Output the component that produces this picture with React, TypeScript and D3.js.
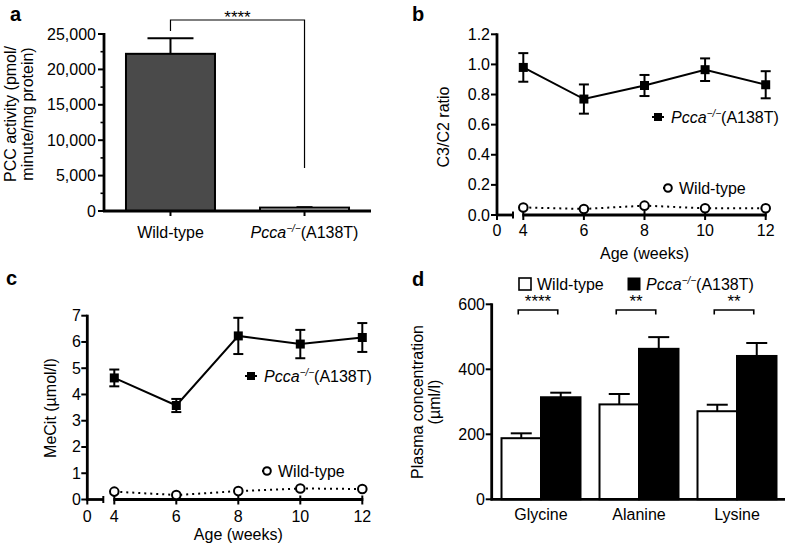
import React from "react";
import * as d3 from "d3";

// ---------- DATA ----------
const aCats = ["Wild-type", "Pcca"];
const aValues = [22200, 480];
const aErrors = [2200, 60];
const aTicks = [0, 5000, 10000, 15000, 20000, 25000];

const weeks = [4, 6, 8, 10, 12];
const bPcca = [0.98, 0.77, 0.86, 0.965, 0.865];
const bPccaErr = [0.095, 0.097, 0.07, 0.075, 0.09];
const bWT = [0.05, 0.04, 0.062, 0.045, 0.045];
const bTicks = [0, 0.2, 0.4, 0.6, 0.8, 1.0, 1.2];

const cPcca = [4.63, 3.58, 6.23, 5.92, 6.17];
const cPccaErr = [0.32, 0.25, 0.69, 0.54, 0.55];
const cWT = [0.3, 0.17, 0.32, 0.42, 0.4];
const cTicks = [0, 1, 2, 3, 4, 5, 6, 7];

const dCats = ["Glycine", "Alanine", "Lysine"];
const dSeries = ["Wild-type", "Pcca"];
const dWT = [188, 292, 271];
const dWTErr = [15, 32, 20];
const dPcca = [314, 463, 441];
const dPccaErr = [14, 36, 40];
const dStars = ["****", "**", "**"];
const dTicks = [0, 200, 400, 600];

const FONT = "Liberation Sans, Arial, Helvetica, sans-serif";
const FS = 16;

function PccaLabel({ x, y, anchor = "start" }: { x: number; y: number; anchor?: string }) {
  return (
    <text x={x} y={y} fontSize={FS} textAnchor={anchor} fontFamily={FONT}>
      <tspan fontStyle="italic">Pcca</tspan>
      <tspan fontStyle="italic" fontSize={10} dy={-6}>−/−</tspan>
      <tspan dy={6}>(A138T)</tspan>
    </text>
  );
}

function YAxis({ x, scale, ticks, fmt, labelX, minor }: any) {
  const [r0, r1] = scale.range();
  return (
    <g>
      <line x1={x} x2={x} y1={r0 + 1} y2={r1 - 1} stroke="#000" strokeWidth={2.8} />
      {ticks.map((t: number) => (
        <g key={t}>
          <line x1={x - 6} x2={x} y1={scale(t)} y2={scale(t)} stroke="#000" strokeWidth={2} />
          <text x={labelX} y={scale(t) + 5.5} textAnchor="end" fontSize={FS} fontFamily={FONT}>
            {fmt(t)}
          </text>
        </g>
      ))}
      {(minor || []).map((t: number) => (
        <line key={"m" + t} x1={x - 3.5} x2={x} y1={scale(t)} y2={scale(t)} stroke="#000" strokeWidth={1.6} />
      ))}
    </g>
  );
}

function LinePanel({ xs, ys, yAxisX, y0, ticks, fmt, labelX, pcca, pccaErr, wt, xTickY, leg1, leg2, yLabel, yLabelX, yLabelY, xLabelY }: any) {
  const line = d3
    .line<number>()
    .x((_, i) => xs(weeks[i]))
    .y((d) => ys(d));
  const breakEnd = yAxisX + 16;
  return (
    <g fontFamily={FONT}>
      <YAxis x={yAxisX} scale={ys} ticks={ticks} fmt={fmt} labelX={labelX} />
      {/* broken x axis */}
      <line x1={yAxisX - 1} x2={breakEnd} y1={y0} y2={y0} stroke="#000" strokeWidth={2.8} />
      <line x1={breakEnd} x2={breakEnd} y1={y0 - 3.5} y2={y0 + 3.5} stroke="#000" strokeWidth={2} />
      <line x1={yAxisX} x2={yAxisX} y1={y0} y2={y0 + 5} stroke="#000" strokeWidth={2} />
      <text x={yAxisX} y={xTickY} textAnchor="middle" fontSize={FS}>0</text>
      <line x1={xs(4) - 1} x2={xs(12) + 1} y1={y0} y2={y0} stroke="#000" strokeWidth={2.8} />
      {weeks.map((w) => (
        <g key={w}>
          <line x1={xs(w)} x2={xs(w)} y1={y0 - 4} y2={y0 + 5} stroke="#000" strokeWidth={2} />
          <text x={xs(w)} y={xTickY} textAnchor="middle" fontSize={FS}>{w}</text>
        </g>
      ))}
      {/* WT dotted */}
      <path d={line(wt) || ""} fill="none" stroke="#000" strokeWidth={2} strokeDasharray="2,4" />
      {wt.map((v: number, i: number) => (
        <circle key={i} cx={xs(weeks[i])} cy={ys(v)} r={4.3} fill="#fff" stroke="#000" strokeWidth={2} />
      ))}
      {/* Pcca */}
      <path d={line(pcca) || ""} fill="none" stroke="#000" strokeWidth={2} />
      {pcca.map((v: number, i: number) => {
        const cx = xs(weeks[i]);
        const t = ys(v + pccaErr[i]);
        const b = ys(v - pccaErr[i]);
        return (
          <g key={i}>
            <line x1={cx} x2={cx} y1={t} y2={b} stroke="#000" strokeWidth={2} />
            <line x1={cx - 5} x2={cx + 5} y1={t} y2={t} stroke="#000" strokeWidth={2} />
            <line x1={cx - 5} x2={cx + 5} y1={b} y2={b} stroke="#000" strokeWidth={2} />
            <rect x={cx - 4.5} y={ys(v) - 4.5} width={9} height={9} fill="#000" />
          </g>
        );
      })}
      {/* legends */}
      <line x1={leg1[0] - 6} x2={leg1[0] + 6} y1={leg1[1]} y2={leg1[1]} stroke="#000" strokeWidth={2} />
      <rect x={leg1[0] - 4} y={leg1[1] - 4} width={8} height={8} fill="#000" />
      <PccaLabel x={leg1[0] + 13} y={leg1[1] + 5.5} />
      <line x1={leg2[0] - 5} x2={leg2[0]} y1={leg2[1]} y2={leg2[1]} stroke="#000" strokeWidth={2} />
      <circle cx={leg2[0]} cy={leg2[1]} r={3.8} fill="#fff" stroke="#000" strokeWidth={2} />
      <text x={leg2[0] + 11} y={leg2[1] + 5.5} fontSize={FS}>Wild-type</text>
      {/* labels */}
      <text transform={`translate(${yLabelX},${yLabelY}) rotate(-90)`} textAnchor="middle" fontSize={FS}>{yLabel}</text>
      <text x={(xs(4) + xs(12)) / 2} y={xLabelY} textAnchor="middle" fontSize={FS}>Age (weeks)</text>
    </g>
  );
}

export default function App() {
  // ---------- Panel a ----------
  const aY = d3.scaleLinear().domain([0, 25000]).range([211, 34]);
  const aX = d3.scaleBand().domain(aCats).range([104, 371]).paddingInner(0.336).paddingOuter(0.164);
  const aMinor = d3.range(2500, 25000, 5000);
  const aC = aCats.map((c) => (aX(c) as number) + aX.bandwidth() / 2);

  // ---------- Panel b ----------
  const bY = d3.scaleLinear().domain([0, 1.2]).range([215, 34.3]);
  const bX = d3.scaleLinear().domain([4, 12]).range([523.3, 765.7]);

  // ---------- Panel c ----------
  const cY = d3.scaleLinear().domain([0, 7]).range([499.5, 315.7]);
  const cX = d3.scaleLinear().domain([4, 12]).range([114.3, 362.3]);

  // ---------- Panel d ----------
  const dY = d3.scaleLinear().domain([0, 600]).range([499.3, 304.3]);
  const dX = d3.scaleBand().domain(dCats).range([492, 786]).paddingInner(0.194).paddingOuter(0.097);
  const dInner = d3.scaleBand().domain(dSeries).range([0, dX.bandwidth()]);
  const dVals = [dWT, dPcca];
  const dErrs = [dWTErr, dPccaErr];

  return (
    <svg width={787} height={546} style={{ position: "absolute", left: 0, top: 0, background: "#fff" }} fontFamily={FONT}>
      <rect width={787} height={546} fill="#fff" />
      {/* panel letters */}
      <g fontWeight="bold" fontSize={20}>
        <text x={10} y={21}>a</text>
        <text x={412} y={21}>b</text>
        <text x={6} y={285}>c</text>
        <text x={412} y={286}>d</text>
      </g>

      {/* ===== Panel a ===== */}
      <g>
        {aCats.map((c, i) => {
          const x = aX(c) as number;
          const cx = aC[i];
          const top = aY(aValues[i] + aErrors[i]);
          return (
            <g key={c}>
              <line x1={cx} x2={cx} y1={aY(aValues[i])} y2={top} stroke="#000" strokeWidth={2} />
              <line x1={cx - (i === 0 ? 23 : 8)} x2={cx + (i === 0 ? 23 : 8)} y1={top} y2={top} stroke="#000" strokeWidth={2} />
              <rect x={x} y={aY(aValues[i])} width={aX.bandwidth()} height={aY(0) - aY(aValues[i])}
                fill={i === 0 ? "#4a4a4a" : "#fff"} stroke="#000" strokeWidth={2} />
            </g>
          );
        })}
        <YAxis x={104} scale={aY} ticks={aTicks} fmt={d3.format(",")} labelX={96} minor={aMinor} />
        <line x1={103} x2={371} y1={aY(0)} y2={aY(0)} stroke="#000" strokeWidth={2.8} />
        {aC.map((cx, i) => (
          <line key={i} x1={cx} x2={cx} y1={aY(0)} y2={aY(0) + 5} stroke="#000" strokeWidth={2} />
        ))}
        <text x={aC[0]} y={238} textAnchor="middle" fontSize={FS}>Wild-type</text>
        <PccaLabel x={aC[1]} y={238} anchor="middle" />
        {/* significance */}
        <path d={`M${aC[0]},31 V20 H${aC[1]} V168`} fill="none" stroke="#000" strokeWidth={1.2} />
        <text x={(aC[0] + aC[1]) / 2} y={23} textAnchor="middle" fontSize={17}>****</text>
        <text transform="translate(16,114) rotate(-90)" textAnchor="middle" fontSize={FS}>PCC activity (pmol/</text>
        <text transform="translate(33,114) rotate(-90)" textAnchor="middle" fontSize={FS}>minute/mg protein)</text>
      </g>

      {/* ===== Panel b ===== */}
      <LinePanel xs={bX} ys={bY} yAxisX={497} y0={bY(0)} ticks={bTicks} fmt={d3.format(".1f")} labelX={490}
        pcca={bPcca} pccaErr={bPccaErr} wt={bWT} xTickY={235.5} leg1={[658, 117]} leg2={[668, 188]}
        yLabel="C3/C2 ratio" yLabelX={449} yLabelY={127} xLabelY={259} />

      {/* ===== Panel c ===== */}
      <LinePanel xs={cX} ys={cY} yAxisX={87.3} y0={cY(0)} ticks={cTicks} fmt={d3.format("d")} labelX={81}
        pcca={cPcca} pccaErr={cPccaErr} wt={cWT} xTickY={522} leg1={[251, 376]} leg2={[267, 471]}
        yLabel="MeCit (µmol/l)" yLabelX={56} yLabelY={408} xLabelY={540} />

      {/* ===== Panel d ===== */}
      <g>
        {dCats.map((c, gi) => (
          <g key={c}>
            {dSeries.map((s, si) => {
              const x = (dX(c) as number) + (dInner(s) as number);
              const w = dInner.bandwidth();
              const v = dVals[si][gi];
              const top = dY(v + dErrs[si][gi]);
              const cx = x + w / 2;
              return (
                <g key={s}>
                  <line x1={cx} x2={cx} y1={dY(v)} y2={top} stroke="#000" strokeWidth={2} />
                  <line x1={cx - 10.5} x2={cx + 10.5} y1={top} y2={top} stroke="#000" strokeWidth={2} />
                  <rect x={x} y={dY(v)} width={w} height={dY(0) - dY(v)} fill={si === 0 ? "#fff" : "#000"} stroke="#000" strokeWidth={2} />
                </g>
              );
            })}
            {(() => {
              const x1 = (dX(c) as number) + (dInner("Wild-type") as number) + dInner.bandwidth() / 2;
              const x2 = (dX(c) as number) + (dInner("Pcca") as number) + dInner.bandwidth() / 2;
              return (
                <g>
                  <path d={`M${x1 - 3},314.5 V310 H${x2 - 3} V314.5`} fill="none" stroke="#000" strokeWidth={1.6} />
                  <text x={(x1 + x2) / 2 - 3} y={307} textAnchor="middle" fontSize={17}>{dStars[gi]}</text>
                </g>
              );
            })()}
            <text x={(dX(c) as number) + dX.bandwidth() / 2} y={520} textAnchor="middle" fontSize={FS}>{c}</text>
          </g>
        ))}
        <YAxis x={491.7} scale={dY} ticks={dTicks} fmt={d3.format("d")} labelX={485} />
        <line x1={490.5} x2={785} y1={dY(0)} y2={dY(0)} stroke="#000" strokeWidth={2.8} />
        {/* legend */}
        <rect x={519} y={278} width={12} height={12} fill="#fff" stroke="#000" strokeWidth={1.6} />
        <text x={537} y={290} fontSize={FS}>Wild-type</text>
        <rect x={627.5} y={277.5} width={13} height={13} fill="#000" />
        <PccaLabel x={646} y={290} />
        <text transform="translate(423,402) rotate(-90)" textAnchor="middle" fontSize={FS}>Plasma concentration</text>
        <text transform="translate(440,402) rotate(-90)" textAnchor="middle" fontSize={FS}>(µml/l)</text>
      </g>
    </svg>
  );
}
